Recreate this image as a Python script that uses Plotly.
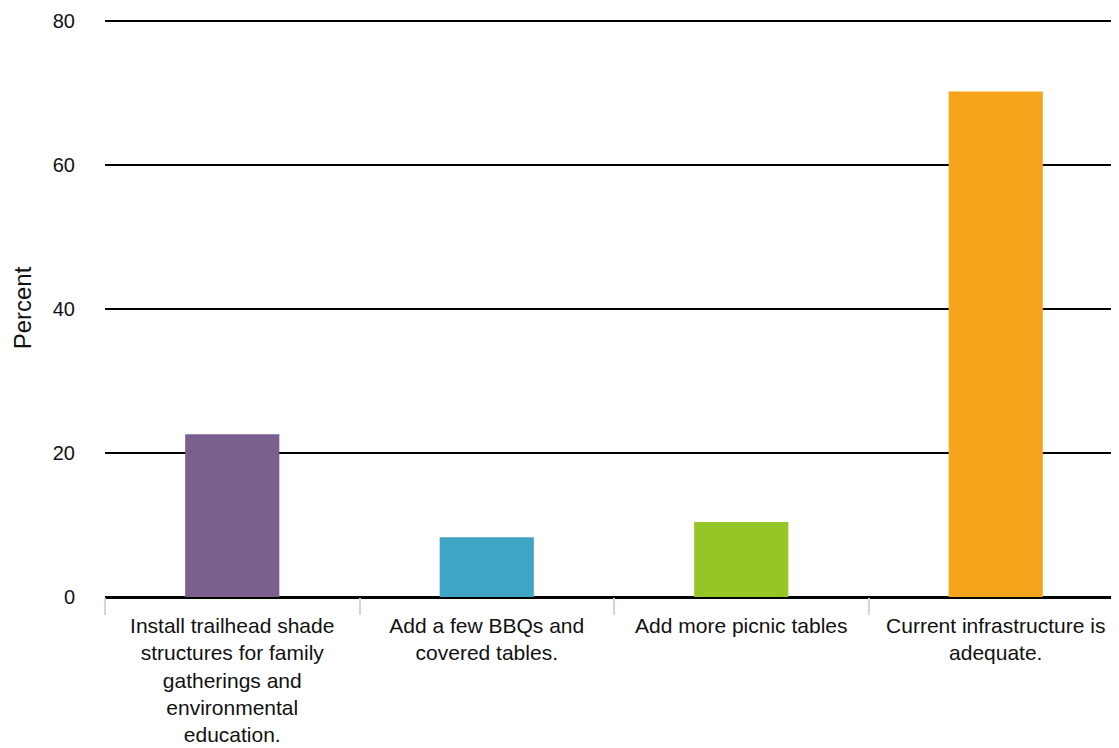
import plotly.graph_objects as go

categories = [
    "Install trailhead shade<br>structures for family<br>gatherings and<br>environmental<br>education.",
    "Add a few BBQs and<br>covered tables.",
    "Add more picnic tables",
    "Current infrastructure is<br>adequate.",
]
values = [22.6, 8.3, 10.4, 70.2]
colors = ["#7B5F8E", "#40A4C4", "#94C627", "#F5A51B"]
y_ticks = [0, 20, 40, 60, 80]

fig = go.Figure(go.Bar(x=categories, y=values, marker_color=colors, width=0.37,
                       marker_line_width=0))

fig.update_layout(
    width=1119, height=740,
    margin=dict(l=97, r=4, t=11, b=151),
    plot_bgcolor="white", paper_bgcolor="white",
    font=dict(family="Liberation Sans, Arial, sans-serif", size=20, color="#111111"),
    showlegend=False,
)
fig.update_xaxes(
    type="category", tickson="boundaries", ticks="outside", ticklen=17,
    tickcolor="#ccd6eb", tickwidth=1.5, showline=False, showgrid=False,
    tickfont=dict(size=21, color="#111111"), automargin=False,
    ticklabelstandoff=14,
)
fig.update_yaxes(
    range=[0, 80.25], tickvals=y_ticks, showgrid=True, gridcolor="#000000", gridwidth=2,
    zeroline=True, zerolinecolor="#000000", zerolinewidth=2.5,
    ticks="outside", ticklen=25, tickcolor="rgba(0,0,0,0)",
    tickfont=dict(size=20, color="#111111"), automargin=False,
    title=dict(text="Percent", font=dict(size=24, color="#111111"), standoff=14),
)
fig.write_html("out.html")
